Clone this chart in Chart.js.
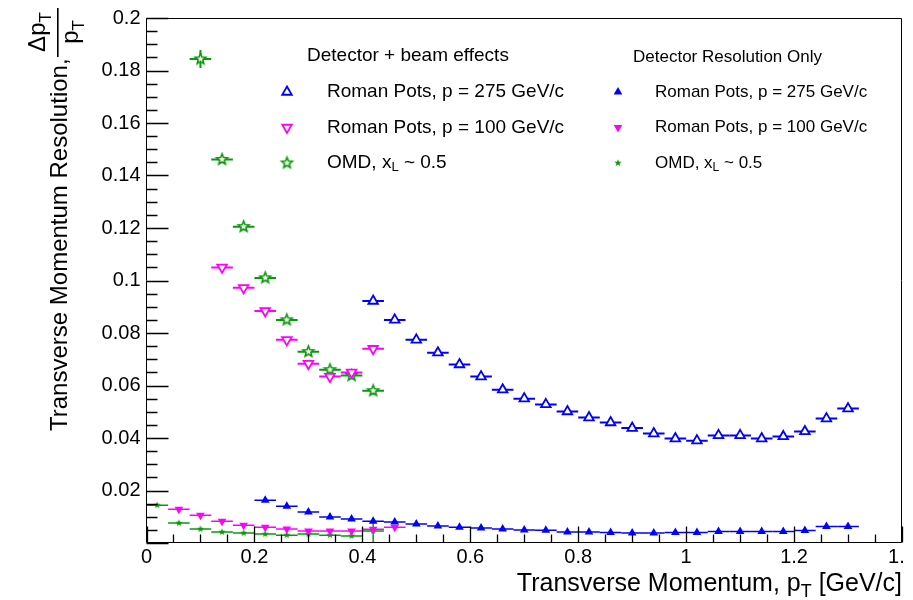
<!DOCTYPE html>
<html><head><meta charset="utf-8">
<script src="https://cdn.jsdelivr.net/npm/chart.js@4.4.1/dist/chart.umd.min.js"></script>
<style>html,body{margin:0;padding:0;background:#fff;overflow:hidden}
#wrap{position:absolute;left:0;top:0;width:905px;height:600px;overflow:hidden}</style>
</head><body><div id="wrap"><canvas id="c" width="930" height="600"></canvas></div>
<script>
// ---- data ----
const pT_rp275_beam = [0.42,0.46,0.50,0.54,0.58,0.62,0.66,0.70,0.74,0.78,0.82,0.86,0.90,0.94,0.98,1.02,1.06,1.10,1.14,1.18,1.22,1.26,1.30];
const res_rp275_beam = [0.0922,0.0850,0.0774,0.0725,0.0680,0.0634,0.0584,0.0550,0.0528,0.0501,0.0478,0.0459,0.0438,0.0417,0.0398,0.0390,0.0410,0.0410,0.0398,0.0406,0.0425,0.0474,0.0512];

const pT_rp100_beam = [0.14,0.18,0.22,0.26,0.30,0.34,0.38,0.42];
const res_rp100_beam = [0.1050,0.0972,0.0884,0.0774,0.0683,0.0634,0.0650,0.0740];

const pT_omd_beam = [0.10,0.14,0.18,0.22,0.26,0.30,0.34,0.38,0.42];
const res_omd_beam = [0.1844,0.1461,0.1205,0.1010,0.0850,0.0729,0.0660,0.0638,0.0580];
const err_omd_beam = [0.0034,0.0012,0.0012,0.0012,0.0012,0.0012,0.0012,0.0012,0.0015];

const pT_rp275_det = [0.22,0.26,0.30,0.34,0.38,0.42,0.46,0.50,0.54,0.58,0.62,0.66,0.70,0.74,0.78,0.82,0.86,0.90,0.94,0.98,1.02,1.06,1.10,1.14,1.18,1.22,1.26,1.30];
const res_rp275_det = [0.0163,0.0140,0.0118,0.0099,0.0091,0.0083,0.0080,0.0072,0.0065,0.0060,0.0057,0.0053,0.0050,0.0049,0.0042,0.0042,0.0040,0.0038,0.0038,0.0040,0.0040,0.0044,0.0044,0.0044,0.0044,0.0048,0.0063,0.0063];

const pT_rp100_det = [0.06,0.10,0.14,0.18,0.22,0.26,0.30,0.34,0.38,0.42,0.46];
const res_rp100_det = [0.0129,0.0106,0.0083,0.0068,0.0060,0.0053,0.0046,0.0046,0.0046,0.0052,0.0060];

const pT_omd_det = [0.02,0.06,0.10,0.14,0.18,0.22,0.26,0.30,0.34,0.38,0.42];
const res_omd_det = [0.0144,0.0076,0.0053,0.0042,0.0038,0.0034,0.0030,0.0034,0.0030,0.0027,0.0046];
const err_omd_det = [0,0,0,0,0,0,0,0,0,0,0.0048];

const X_HALF_BIN = 0.02;
const xTickLabels = ['0','0.2','0.4','0.6','0.8','1','1.2','1.4'];
const yTickLabels = ['','0.02','0.04','0.06','0.08','0.1','0.12','0.14','0.16','0.18','0.2'];

// ---- styles ----
const FONT = '"Liberation Sans", Arial, Helvetica, sans-serif';
const BLUE = '#0000ff', MAGENTA = '#ff00ff', GREEN = '#0a990a';

function starImage(outer, inner, color, filled, lw) {
  const size = Math.ceil(outer * 2 + lw * 2 + 2);
  const c = document.createElement('canvas');
  c.width = c.height = size;
  const g = c.getContext('2d');
  const cx = size / 2, cy = size / 2;
  g.beginPath();
  for (let i = 0; i < 10; i++) {
    const r = i % 2 ? inner : outer;
    const a = -Math.PI / 2 + i * Math.PI / 5;
    g.lineTo(cx + r * Math.cos(a), cy + r * Math.sin(a));
  }
  g.closePath();
  if (filled) { g.fillStyle = color; g.fill(); }
  else { g.fillStyle = '#fff'; g.fill(); g.strokeStyle = color; g.lineWidth = lw; g.lineJoin = 'miter'; g.stroke(); }
  return c;
}
const openStar = starImage(5.6, 2.5, GREEN, false, 1.6);
const smallStar = starImage(3.8, 1.6, GREEN, true, 0);

function pts(xs, ys) { return xs.map((x, i) => ({x: x, y: ys[i]})); }

const datasets = [
  {label: 'Roman Pots, p = 275 GeV/c', data: pts(pT_rp275_beam, res_rp275_beam),
   pointStyle: 'triangle', pointRadius: 5.5, pointRotation: 0, pointBorderWidth: 1.8,
   pointBorderColor: BLUE, pointBackgroundColor: '#fff', errColor: BLUE, errWidth: 2},
  {label: 'Roman Pots, p = 100 GeV/c', data: pts(pT_rp100_beam, res_rp100_beam),
   pointStyle: 'triangle', pointRadius: 5.5, pointRotation: 180, pointBorderWidth: 1.8,
   pointBorderColor: MAGENTA, pointBackgroundColor: '#fff', errColor: MAGENTA, errWidth: 2},
  {label: 'OMD, x_L ~ 0.5', data: pts(pT_omd_beam, res_omd_beam), yErr: err_omd_beam,
   pointStyle: openStar, pointRadius: 6, errColor: GREEN, errWidth: 2},
  {label: 'Roman Pots, p = 275 GeV/c (det)', data: pts(pT_rp275_det, res_rp275_det),
   pointStyle: 'triangle', pointRadius: 5, pointRotation: 0, pointBorderWidth: 0,
   pointBorderColor: BLUE, pointBackgroundColor: BLUE, errColor: BLUE, errWidth: 1.5},
  {label: 'Roman Pots, p = 100 GeV/c (det)', data: pts(pT_rp100_det, res_rp100_det),
   pointStyle: 'triangle', pointRadius: 5, pointRotation: 180, pointBorderWidth: 0,
   pointBorderColor: MAGENTA, pointBackgroundColor: MAGENTA, errColor: MAGENTA, errWidth: 1.5},
  {label: 'OMD, x_L ~ 0.5 (det)', data: pts(pT_omd_det, res_omd_det), yErr: err_omd_det,
   pointStyle: smallStar, pointRadius: 4, errColor: GREEN, errWidth: 1.5}
];

function drawSub(ctx, parts, x, y, baseSize, align) {
  let w = 0;
  parts.forEach(p => { ctx.font = (p.sub ? Math.round(baseSize * 0.7) : baseSize) + 'px ' + FONT; w += ctx.measureText(p.t).width; });
  let cx = align === 'right' ? x - w : (align === 'center' ? x - w / 2 : x);
  ctx.textAlign = 'left';
  parts.forEach(p => {
    ctx.font = (p.sub ? Math.round(baseSize * 0.7) : baseSize) + 'px ' + FONT;
    ctx.fillText(p.t, cx, y + (p.sub ? baseSize * 0.25 : 0));
    cx += ctx.measureText(p.t).width;
  });
  return w;
}

const rootPlugin = {
  id: 'rootStyle',
  beforeDatasetsDraw(chart) {
    const {ctx, chartArea: a, scales: {x, y}} = chart;
    ctx.save();
    ctx.beginPath(); ctx.rect(a.left, a.top, a.right - a.left, a.bottom - a.top); ctx.clip();
    chart.data.datasets.forEach(ds => {
      ctx.strokeStyle = ds.errColor; ctx.lineWidth = ds.errWidth;
      ds.data.forEach((p, i) => {
        const px = x.getPixelForValue(p.x), py = y.getPixelForValue(p.y);
        ctx.beginPath();
        ctx.moveTo(x.getPixelForValue(p.x - X_HALF_BIN), py);
        ctx.lineTo(x.getPixelForValue(p.x + X_HALF_BIN), py);
        const e = ds.yErr ? ds.yErr[i] : 0;
        if (e > 0) {
          ctx.moveTo(px, y.getPixelForValue(p.y - e));
          ctx.lineTo(px, y.getPixelForValue(p.y + e));
        }
        ctx.stroke();
      });
    });
    ctx.restore();
  },
  afterDatasetsDraw(chart) {
    const {ctx, chartArea: a, scales: {x, y}} = chart;
    ctx.save();
    ctx.strokeStyle = '#000'; ctx.lineWidth = 1;
    const L = Math.round(a.left) - 0.5, R = Math.round(a.right) - 0.5, T = Math.round(a.top) + 0.5, B = Math.round(a.bottom) - 0.5;
    ctx.beginPath();
    ctx.moveTo(L, T); ctx.lineTo(R, T); ctx.lineTo(R, B); ctx.lineTo(L, B); ctx.closePath();
    ctx.stroke();
    ctx.lineWidth = 1.3;
    ctx.beginPath();
    for (let k = 0; k <= 40; k++) {
      const py = Math.round(y.getPixelForValue(k * 0.005)) + 0.5;
      const len = k % 4 === 0 ? 22 : 11;
      ctx.moveTo(L, py); ctx.lineTo(L + len, py);
    }
    for (let k = 0; k <= 28; k++) {
      const px = Math.round(x.getPixelForValue(k * 0.05)) + 0.5;
      const len = k % 4 === 0 ? 16 : 8;
      ctx.moveTo(px, B); ctx.lineTo(px, B - len);
    }
    ctx.stroke();
    ctx.restore();
  },
  afterDraw(chart) {
    const ctx = chart.ctx;
    ctx.save();
    ctx.fillStyle = '#000';
    ctx.textBaseline = 'alphabetic';
    // x title
    drawSub(ctx, [{t: 'Transverse Momentum, p'}, {t: 'T', sub: true}, {t: ' [GeV/c]'}], 902, 591, 25, 'right');
    // y title (rotated)
    ctx.save();
    ctx.rotate(-Math.PI / 2);
    ctx.font = '24px ' + FONT; ctx.textAlign = 'left';
    ctx.fillText('Transverse Momentum Resolution,', -431, 67);
    const uc = -32;
    drawSub(ctx, [{t: '\u0394p'}, {t: 'T', sub: true}], uc, 45, 24, 'center');
    drawSub(ctx, [{t: 'p'}, {t: 'T', sub: true}], uc, 78, 24, 'center');
    ctx.fillRect(-57, 57, 49, 1.6);
    ctx.restore();

    // legends
    ctx.textBaseline = 'middle';
    ctx.font = '19px ' + FONT; ctx.textAlign = 'left';
    ctx.fillText('Detector + beam effects', 307, 56);
    ctx.font = '17px ' + FONT;
    ctx.fillText('Detector Resolution Only', 633, 57);
    const rows = [92, 127.5, 163];
    const ds = chart.data.datasets;
    const H = Chart.helpers;
    const drawMarker = (d, px, py) => {
      ctx.save();
      ctx.fillStyle = d.pointBackgroundColor || '#fff';
      ctx.strokeStyle = d.pointBorderColor || GREEN;
      ctx.lineWidth = d.pointBorderWidth || 0;
      H.drawPoint(ctx, {pointStyle: d.pointStyle, radius: d.pointRadius, rotation: d.pointRotation || 0, borderWidth: d.pointBorderWidth || 0}, px, py);
      ctx.restore();
    };
    drawMarker(ds[0], 287, rows[0]);
    drawMarker(ds[1], 287, rows[1]);
    drawMarker(ds[2], 287, rows[2]);
    drawMarker(ds[3], 618, rows[0]);
    drawMarker(ds[4], 618, rows[1]);
    drawMarker(ds[5], 618, rows[2]);
    ctx.fillStyle = '#000';
    ctx.textBaseline = 'middle';
    ctx.font = '19px ' + FONT;
    ctx.fillText('Roman Pots, p = 275 GeV/c', 327, rows[0]);
    ctx.fillText('Roman Pots, p = 100 GeV/c', 327, rows[1]);
    drawSub(ctx, [{t: 'OMD, x'}, {t: 'L', sub: true}, {t: ' ~ 0.5'}], 327, rows[2], 19, 'left');
    ctx.font = '17px ' + FONT;
    ctx.fillText('Roman Pots, p = 275 GeV/c', 655, rows[0]);
    ctx.fillText('Roman Pots, p = 100 GeV/c', 655, rows[1]);
    drawSub(ctx, [{t: 'OMD, x'}, {t: 'L', sub: true}, {t: ' ~ 0.5'}], 655, rows[2], 17, 'left');
    ctx.restore();
  }
};

new Chart(document.getElementById('c'), {
  type: 'scatter',
  data: {datasets: datasets},
  plugins: [rootPlugin],
  options: {
    responsive: false,
    animation: false,
    events: [],
    layout: {padding: {left: 0, right: 28, top: 16, bottom: 0}},
    plugins: {legend: {display: false}, tooltip: {enabled: false}},
    scales: {
      x: {
        type: 'linear', min: 0, max: 1.4,
        grid: {display: false, drawTicks: false}, border: {display: false},
        afterFit: s => { s.height = 57; },
        ticks: {stepSize: 0.2, padding: 2, color: '#000', maxRotation: 0, autoSkip: false,
          font: {family: FONT, size: 20},
          callback: (v, i) => xTickLabels[i]}
      },
      y: {
        type: 'linear', min: 0, max: 0.2,
        grid: {display: false, drawTicks: false}, border: {display: false},
        afterFit: s => { s.width = 146.5; },
        ticks: {stepSize: 0.02, padding: 6, color: '#000', autoSkip: false,
          font: {family: FONT, size: 20},
          callback: (v, i) => yTickLabels[i]}
      }
    }
  }
});
</script></body></html>
